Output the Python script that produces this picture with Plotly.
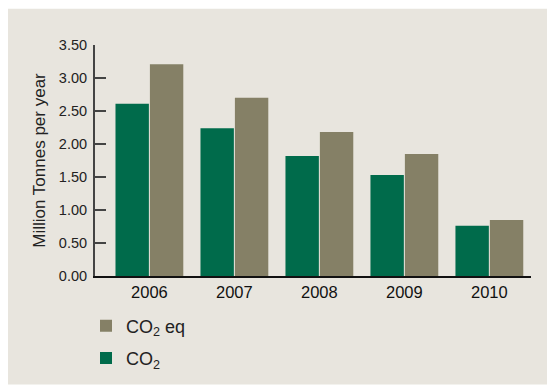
import plotly.graph_objects as go

# Annual emissions, million tonnes per year
years = ["2006", "2007", "2008", "2009", "2010"]
co2 = [2.61, 2.24, 1.82, 1.53, 0.76]
co2_eq = [3.21, 2.70, 2.18, 1.85, 0.85]
y_ticks = [0, 0.5, 1.0, 1.5, 2.0, 2.5, 3.0, 3.5]

GREEN = "#006B4B"
OLIVE = "#858066"
PANEL = "#E8E5DE"
FONT = "Liberation Sans, Arial, Helvetica, sans-serif"

W, H = 547, 388
L, R, T, B = 95, 16, 45, 108

fig = go.Figure()
fig.add_trace(go.Bar(
    x=years, y=co2, name="CO<sub>2</sub>", marker=dict(color=GREEN, line=dict(width=0)),
    legendgroup="b", legendrank=2,
))
fig.add_trace(go.Bar(
    x=years, y=co2_eq, name="CO<sub>2</sub> eq", marker=dict(color=OLIVE, line=dict(width=0)),
    legendgroup="a", legendrank=1,
))

pw = W - L - R
ph = H - T - B
# beige panel behind everything, leaving a thin white strip top and left
fig.add_shape(
    type="rect", xref="paper", yref="paper", layer="below",
    x0=(8 - L) / pw, x1=(W - L) / pw + 0.01,
    y0=-(H - T - ph) / ph - 0.01, y1=(T - 8) / ph + 1,
    fillcolor=PANEL, line=dict(width=0),
)

fig.update_layout(
    width=W, height=H,
    margin=dict(l=L, r=R, t=T, b=B),
    paper_bgcolor="white",
    plot_bgcolor="rgba(0,0,0,0)",
    font=dict(family=FONT, color="#222222"),
    barmode="group",
    bargap=0.19,
    bargroupgap=0.03,
    showlegend=True,
    legend=dict(
        x=(86 - L) / pw, y=(H - B - 312) / ph, xanchor="left", yanchor="top",
        font=dict(size=18, color="#222222"),
        bgcolor="rgba(0,0,0,0)", tracegroupgap=6,
        itemwidth=30,
    ),
    xaxis=dict(
        type="category", range=[-0.64, 4.49],
        showline=True, linecolor="#111111", linewidth=2,
        ticks="", showgrid=False, zeroline=False,
        tickfont=dict(size=16.5, color="#111111"),
    ),
    yaxis=dict(
        range=[0, 3.5], tickvals=y_ticks, tickformat=".2f",
        showline=True, linecolor="#444444", linewidth=2,
        ticks="inside", ticklen=11, tickwidth=2, tickcolor="#444444",
        showgrid=False, zeroline=False,
        tickfont=dict(size=14.5, color="#222222"),
        ticklabelstandoff=3,
        title=dict(text="Million Tonnes per year", font=dict(size=17, color="#222222"), standoff=9),
    ),
)

fig.write_html("out.html")
